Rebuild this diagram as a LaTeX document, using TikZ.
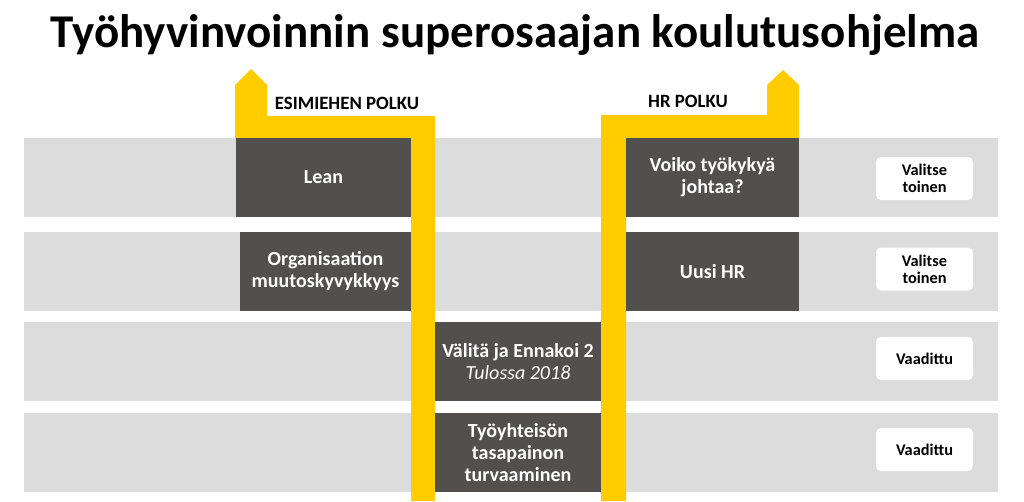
\documentclass[tikz,border=0pt]{standalone}
\usepackage{fontspec}
\setmainfont{Carlito}
\usetikzlibrary{
	positioning,
	calc,
}
\definecolor{bandgray}{HTML}{DCDCDC}
\definecolor{boxdark}{HTML}{524F4F}
\definecolor{pathyellow}{HTML}{FFCC00}
\tikzset{band/.style={draw=none,fill=bandgray,minimum width=974pt,minimum height=79pt,inner sep=0pt,}}
\tikzset{course/.style={draw=none,fill=boxdark,text=white,inner sep=0pt,minimum height=79pt,align=center,font=\bfseries\fontsize{20}{22}\selectfont,}}
\tikzset{choice/.style={draw=none,fill=white,rounded corners=5pt,minimum width=97pt,minimum height=43pt,inner sep=0pt,align=center,font=\bfseries\fontsize{16.3}{17}\selectfont,}}
\tikzset{pathlabel/.style={font=\bfseries\fontsize{18.8}{20}\selectfont,inner sep=0pt,}}
\tikzset{yellowpath/.style={fill=pathyellow,draw=none,}}

\begin{document}
\begin{tikzpicture}[x=1pt,y=-1pt]
\useasboundingbox (0,0) rectangle (1024,501);

\node[font=\bfseries\fontsize{47}{50}\selectfont,inner sep=0pt](title) at(515,35) {Työhyvinvoinnin superosaajan koulutusohjelma};

% rows
\node[band](row1) at(511,177.5) {};
\node[band](row2) at(511,271.5) {};
\node[band](row3) at(511,361.5) {};
\node[band](row4) at(511,452.5) {};

% paths
\draw[yellowpath] (235,138) -- (235,85) -- (251,69) -- (267,85) -- (267,116) -- (435,116) -- (435,501) -- (411,501) -- (411,138) -- cycle;
\draw[yellowpath] (601,501) -- (601,115) -- (767,115) -- (767,85) -- (783,70) -- (799,85) -- (799,138) -- (626,138) -- (626,501) -- cycle;

\node[pathlabel](esimies) at(347,103) {ESIMIEHEN POLKU};
\node[pathlabel](hr) at(688,101) {HR POLKU};

% courses
\node[course,minimum width=175pt](lean) at(323.5,177.5) {Lean};
\node[course,minimum width=171pt](org) at(325.5,271.5) {Organisaation\\muutoskyvykkyys};
\node[course,minimum width=173pt](voiko) at(712.5,177.5) {Voiko työkykyä\\johtaa?};
\node[course,minimum width=173pt](uusi) at(712.5,271.5) {Uusi HR};
\node[course,minimum width=166pt](valita) at(518,361.5) {Välitä ja Ennakoi 2\\{\mdseries\itshape Tulossa 2018}};
\node[course,minimum width=166pt](tasapaino) at(518,452.5) {Työyhteisön\\tasapainon\\turvaaminen};

% choices
\node[choice](valitse1) at(924.5,178.5) {Valitse\\toinen};
\node[choice](valitse2) at(924.5,269) {Valitse\\toinen};
\node[choice](vaadittu1) at(924.5,358.5) {Vaadittu};
\node[choice](vaadittu2) at(924.5,449.5) {Vaadittu};

\end{tikzpicture}
\end{document}
